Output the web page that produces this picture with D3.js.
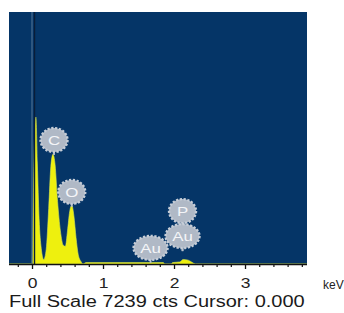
<!DOCTYPE html>
<html><head><meta charset="utf-8">
<script src="https://cdn.jsdelivr.net/npm/d3@7"></script>
<style>html,body{margin:0;padding:0;background:#fff;} svg{display:block;}</style>
</head><body><svg id="c" width="344" height="313"></svg>
<script>
// ---- data ----
const energyKeV = [-0.32, 0.00, 0.015, 0.035, 0.055, 0.075, 0.10, 0.13, 0.165, 0.20, 0.235, 0.265, 0.295, 0.325, 0.36, 0.40, 0.44, 0.47, 0.50, 0.53, 0.56, 0.59, 0.62, 0.65, 0.69, 0.72, 0.76, 1.85, 1.87, 1.96, 1.98, 2.08, 2.13, 2.20, 2.26, 2.30, 3.87];
const counts    = [0, 0, 1500, 3600, 4220, 2900, 1300, 450, 130, 420, 1600, 2800, 3150, 2850, 1800, 950, 540, 510, 950, 1500, 1690, 1380, 760, 280, 70, 0, 40, 40, 0, 0, 40, 60, 130, 110, 40, 0, 0];
const majorTicks = [0, 1, 2, 3];
const minorTicks = [-0.2, 0.2, 0.4, 0.6, 0.8, 1.2, 1.4, 1.6, 1.8, 2.2, 2.4, 2.6, 2.8, 3.2, 3.4, 3.6, 3.8];
const labelNames  = ["C", "O", "Au", "Au", "P"];
const labelKeV    = [0.31, 0.56, 1.67, 2.12, 2.12];
const labelAnchor = [3130, 1640, 30, 370, 370];
const labelLevel  = [0, 0, 0, 0, 1];
const fullScale = 7239;
const cursorKeV = 0.000;
const unitLabel = "keV";

// ---- layout ----
const L = 9, R = 307, T = 12, B = 264, SX = 1.25;
const FONT = "'Liberation Sans', Arial, sans-serif";
const svg = d3.select("#c");
const x = d3.scaleLinear().domain([-0.324, 3.873]).range([L, R]);
const y = d3.scaleLinear().domain([0, fullScale]).range([B, T]);

svg.append("rect").attr("x", L).attr("y", T).attr("width", R - L).attr("height", B - T)
  .attr("fill", "#053567");

const pts = energyKeV.map((e, i) => [e, counts[i]]);
svg.append("path").datum(pts)
  .attr("d", d3.area().x(d => x(d[0])).y0(B).y1(d => y(d[1])).curve(d3.curveMonotoneX))
  .attr("fill", "#eef00e").attr("stroke", "#d8e850").attr("stroke-width", 0.6);

// cursor lines
svg.append("line").attr("x1", x(cursorKeV)).attr("x2", x(cursorKeV)).attr("y1", T).attr("y2", B)
  .attr("stroke", "#4a6e92").attr("stroke-width", 1.5).attr("opacity", 0.8);
svg.append("line").attr("x1", x(cursorKeV) + 2.5).attr("x2", x(cursorKeV) + 2.5).attr("y1", T).attr("y2", B)
  .attr("stroke", "#0a1d38").attr("stroke-width", 1.4);

// labels
const labels = labelNames.map((n, i) => ({n, e: labelKeV[i], a: labelAnchor[i], lv: labelLevel[i]}));
const lg = svg.append("g");
labels.forEach(d => {
  const cx = x(d.e), ay = y(d.a);
  const cy = ay - 15 - d.lv * 25;
  lg.append("line").attr("x1", cx).attr("x2", cx).attr("y1", cy).attr("y2", ay)
    .attr("stroke", "#b9c1cb").attr("stroke-width", 1.8);
});
labels.forEach(d => {
  const cx = x(d.e), ay = y(d.a);
  const cy = ay - 15 - d.lv * 25;
  const rx = 13.5 + (d.n.length - 1) * 3.5;
  lg.append("ellipse").attr("cx", cx).attr("cy", cy).attr("rx", rx).attr("ry", 12)
    .attr("fill", "#b0b9c6").attr("stroke", "#c6cdd7").attr("stroke-width", 2.4)
    .attr("stroke-dasharray", "2.2,1.6");
  lg.append("text").attr("transform", `translate(${cx},${cy}) scale(${SX},1)`)
    .attr("text-anchor", "middle").attr("dy", "0.36em")
    .attr("font-family", FONT).attr("font-size", 13.5).attr("fill", "#f4f5f8")
    .text(d.n);
});

// axis
const ax = svg.append("g").attr("transform", `translate(0,${B})`);
ax.call(d3.axisBottom(x).tickValues(minorTicks).tickSize(3).tickSizeOuter(0).tickFormat(""))
  .call(g => g.select(".domain").remove());
ax.selectAll(".tick line").attr("stroke", "#111").attr("stroke-width", 1.2);
const ax2 = svg.append("g").attr("transform", `translate(0,${B})`);
ax2.call(d3.axisBottom(x).tickValues(majorTicks).tickSize(5).tickPadding(9).tickSizeOuter(0).tickFormat(d3.format("d")));
ax2.select(".domain").attr("d", `M${L},0.5H${R}`).attr("stroke", "#111").attr("stroke-width", 1.3);
ax2.selectAll(".tick line").attr("stroke", "#111").attr("stroke-width", 1.3);
ax2.selectAll(".tick text").attr("font-family", FONT).attr("font-size", 14).attr("fill", "#222")
  .attr("transform", `scale(${SX},1)`);

svg.append("text").attr("x", 323).attr("y", 289).attr("font-family", FONT).attr("font-size", 12)
  .attr("fill", "#222").text(unitLabel);

svg.append("text").attr("transform", `translate(${L},307) scale(${SX},1)`)
  .attr("font-family", FONT).attr("font-size", 16).attr("fill", "#1a1a1a")
  .text(`Full Scale ${fullScale} cts Cursor: ${cursorKeV.toFixed(3)}`);
</script></body></html>
